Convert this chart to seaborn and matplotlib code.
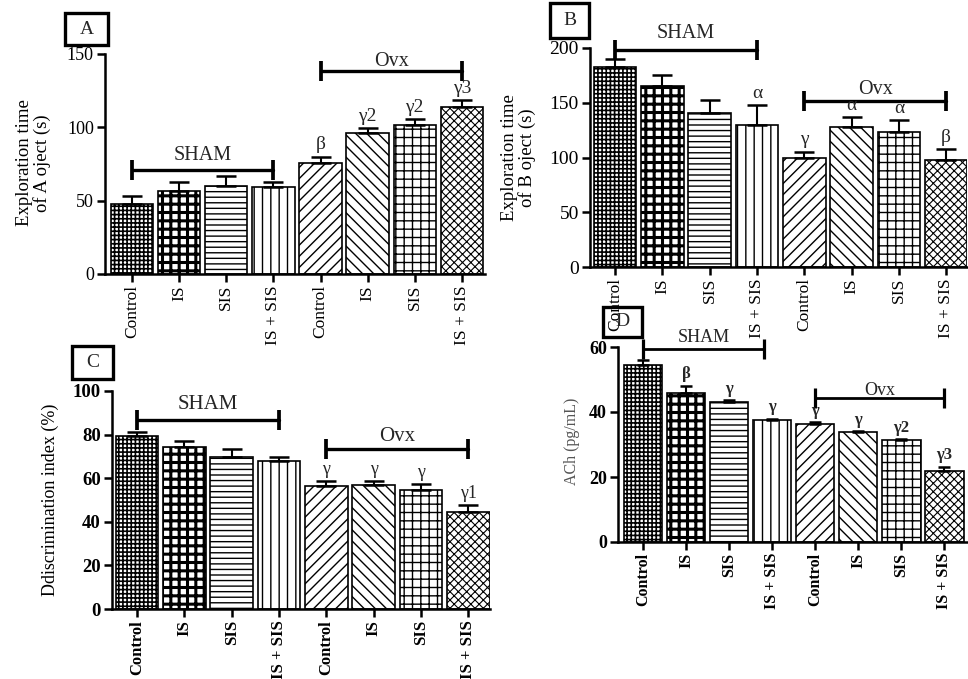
import matplotlib
matplotlib.use('Agg')
import matplotlib.pyplot as plt
import seaborn as sns
import pandas as pd
from matplotlib.patches import Rectangle

sns.set_theme(style='ticks')
plt.rcParams['font.family'] = ['Liberation Serif', 'DejaVu Serif']

W, H = 968, 679

groups = ['SHAM Control', 'SHAM IS', 'SHAM SIS', 'SHAM IS + SIS',
          'Ovx Control', 'Ovx IS', 'Ovx SIS', 'Ovx IS + SIS']
tick_labels = ['Control', 'IS', 'SIS', 'IS + SIS'] * 2
hatches = ['++++', '++', '---', '||', '///', '\\\\\\', '++', 'xxxx']
hatch_lw = [1.2, 2.2, 1.0, 1.0, 1.0, 1.0, 1.0, 0.8]

# A - exploration time of object A (s)
a_vals = [47.5, 56.8, 60.2, 59.3, 75.9, 95.9, 101.6, 113.9]
a_errs = [5.7, 5.9, 6.6, 3.4, 4.1, 3.4, 4.1, 4.5]
a_marks = ['', '', '', '', 'β', 'γ2', 'γ2', 'γ3']

# B - exploration time of object B (s)
b_vals = [182.7, 165.0, 141.0, 129.3, 99.8, 128.0, 123.2, 97.7]
b_errs = [7.3, 10.0, 11.7, 18.5, 5.5, 8.6, 10.9, 10.0]
b_marks = ['', '', '', 'α', 'γ', 'α', 'α', 'β']

# C - discrimination index (%)
c_vals = [79.3, 74.1, 69.7, 67.8, 56.4, 57.0, 54.4, 44.7]
c_errs = [1.9, 3.0, 3.8, 1.7, 2.3, 1.7, 2.9, 3.0]
c_marks = ['', '', '', '', 'γ', 'γ', 'γ', 'γ1']

# D - ACh (pg/mL)
d_vals = [54.6, 46.0, 43.0, 37.5, 36.4, 33.7, 31.4, 21.8]
d_errs = [1.4, 2.1, 0.6, 0.4, 0.4, 0.4, 0.3, 1.4]
d_marks = ['', 'β', 'γ', 'γ', 'γ', 'γ', 'γ2', 'γ3']

fig = plt.figure(figsize=(W / 100, H / 100), dpi=100)


def px_axes(left, y0, right, ytop):
    return fig.add_axes([left / W, (H - y0) / H, (right - left) / W, (y0 - ytop) / H])


def panel_box(letter, x0, y0, x1, y1, size):
    fig.add_artist(Rectangle((x0 / W, 1 - y1 / H), (x1 - x0) / W, (y1 - y0) / H,
                             transform=fig.transFigure, fill=False,
                             edgecolor='black', linewidth=2.4))
    fig.text((x0 + x1) / 2 / W, 1 - (y0 + y1) / 2 / H, letter, ha='center',
             va='center', fontsize=size)


def draw_panel(ax, vals, errs, marks, ylim, yticks, xlim, ylabel, lab_xy,
               brackets, st):
    df = pd.DataFrame({'group': groups, 'value': vals})
    sns.barplot(data=df, x='group', y='value', order=groups, color='white',
                saturation=1, edgecolor='black', linewidth=1.2, width=0.9,
                errorbar=None, ax=ax)
    for p, h, lw in zip(ax.patches, hatches, hatch_lw):
        p.set_hatch(h)
        if hasattr(p, 'set_hatch_linewidth'):
            p.set_hatch_linewidth(lw)
    x = list(range(len(vals)))
    ax.errorbar(x, vals, yerr=[[0] * len(vals), errs], fmt='none',
                ecolor='black', elinewidth=1.5, capsize=st['cap'],
                capthick=1.8, zorder=3)
    for i, (v, e, m) in enumerate(zip(vals, errs, marks)):
        if m:
            ax.annotate(m, (i, v + e), xytext=(0, 2.5), textcoords='offset points',
                        ha='center', va='bottom', fontsize=st['mark'],
                        fontweight=st['mark_w'])
    for x0, x1, y, text, ty in brackets:
        ax.plot([x0, x1], [y, y], color='black', lw=st['br_lw'],
                marker='|', markersize=14, markeredgewidth=st['br_lw'] + 0.3,
                clip_on=False)
        ax.text((x0 + x1) / 2, ty, text, ha='center', va='center',
                fontsize=st['br'], fontweight=st['br_w'])
    ax.set_ylim(*ylim)
    ax.set_xlim(*xlim)
    ax.set_yticks(yticks)
    ax.set_yticklabels([str(t) for t in yticks], fontsize=st['yt'],
                       fontweight=st['tick_w'])
    ax.set_xticks(x)
    ax.set_xticklabels(tick_labels, rotation=90, fontsize=st['xt'],
                       fontweight=st['tick_w'])
    ax.set_xlabel('')
    ax.set_ylabel(ylabel, fontsize=st['yl'], va='center', ha='center',
                  color=st.get('yl_c', 'black'), linespacing=1.0)
    ax.yaxis.set_label_coords(*lab_xy)
    sns.despine(ax=ax)
    for s in ['left', 'bottom']:
        ax.spines[s].set_linewidth(1.8)
        ax.spines[s].set_color('black')
    ax.tick_params(axis='both', direction='out', length=6, width=1.8,
                   colors='black', pad=2)
    ax.set_facecolor('none')


reg = dict(yt=13, xt=12.5, yl=13.5, br=14.5, br_w='normal', mark=14,
           mark_w='normal', tick_w='normal', cap=7.5, br_lw=2.4)

axA = px_axes(105, 274, 485, 54)
draw_panel(axA, a_vals, a_errs, a_marks, (0, 150), [0, 50, 100, 150],
           (-0.573, 7.49), 'Exploration time\nof A oject (s)', (-0.187, 0.505),
           [(0, 3, 70.9, 'SHAM', 81.1), (4, 7, 138.6, 'Ovx', 144.8)], reg)
panel_box('A', 65, 13, 108, 45, 14)

stB = dict(reg, yt=14)
axB = px_axes(590, 267, 967, 48)
draw_panel(axB, b_vals, b_errs, b_marks, (0, 200), [0, 50, 100, 150, 200],
           (-0.53, 7.44), 'Exploration time\nof B oject (s)', (-0.19, 0.5),
           [(0, 3, 198.5, 'SHAM', 213), (4, 7, 152, 'Ovx', 162)], stB)
panel_box('B', 550, 3, 589, 38, 14)

stC = dict(yt=13.5, xt=12, yl=13, br=15, br_w='normal', mark=13,
           mark_w='normal', tick_w='bold', cap=7, br_lw=2.4)
axC = px_axes(112, 609, 490, 391)
draw_panel(axC, c_vals, c_errs, c_marks, (0, 100), [0, 20, 40, 60, 80, 100],
           (-0.53, 7.46), 'Ddiscrimination index (%)', (-0.164, 0.502),
           [(0, 3, 86.9, 'SHAM', 93.9), (4, 7, 73.6, 'Ovx', 79.3)], stC)
panel_box('C', 72, 346, 113, 379, 14)

stD = dict(yt=13, xt=11.5, yl=11.5, yl_c='#555555', br=13, br_w='normal',
           mark=12, mark_w='bold', tick_w='bold', cap=4.5, br_lw=2.0)
axD = px_axes(618, 542, 967, 347)
draw_panel(axD, d_vals, d_errs, d_marks, (0, 60), [0, 20, 40, 60],
           (-0.58, 7.53), 'ACh (pg/mL)', (-0.132, 0.518),
           [(0, 2.81, 59.4, 'SHAM', 62.8), (4, 7, 44.3, 'Ovx', 46.7)], stD)
panel_box('D', 603, 307, 642, 337, 14)

fig.savefig('out.png', dpi=100)
